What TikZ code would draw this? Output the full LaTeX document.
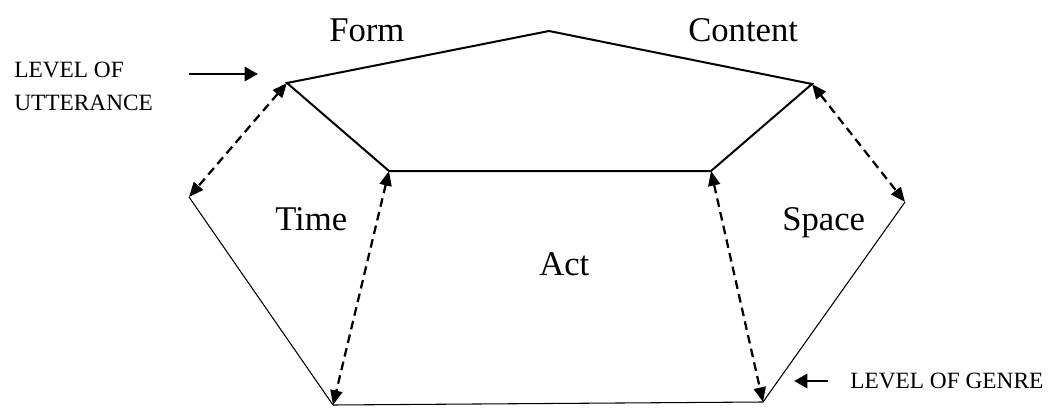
\documentclass[tikz,border=0pt]{standalone}
\usepackage{fontspec}
\setmainfont{Liberation Serif}
\usetikzlibrary{arrows.meta}

\begin{document}
\begin{tikzpicture}[x=0.75pt,y=-0.75pt,
		outer line/.style={line width=1.5pt},
		lower line/.style={line width=0.8pt},
		link arrow/.style={line width=1.7pt,dash pattern=on 6.5pt off 4pt,
			{Triangle[length=11pt,width=9pt]}-{Triangle[length=11pt,width=9pt]}},
		level arrow/.style={line width=2.2pt,-{Triangle[length=10pt,width=10.5pt]}},
		region label/.style={font=\fontsize{26}{30}\selectfont,inner sep=0pt,anchor=base west},
		level label/.style={font=\fontsize{17.5}{24.75}\selectfont,inner sep=0pt,align=left}]
	
	\useasboundingbox (0,0) rectangle (1053,410);
	
	% corners of the figure
	\coordinate (A) at (287,83);
	\coordinate (B) at (549,31);
	\coordinate (C) at (812,84);
	\coordinate (D) at (711,171);
	\coordinate (E) at (389,171);
	\coordinate (F) at (189,197);
	\coordinate (G) at (333,405);
	\coordinate (H) at (763,402);
	\coordinate (I) at (905,202);
	
	% upper level
	\draw[outer line] (A) -- (B) -- (C) -- (D) -- (E) -- cycle;
	% lower level
	\draw[lower line] (F) -- (G) -- (H) -- (I);
	
	\draw[link arrow] (A) -- (F);
	\draw[link arrow] (E) -- (G);
	\draw[link arrow] (D) -- (H);
	\draw[link arrow] (C) -- (I);
	
	\node[region label] (form) at (329,42) {Form};
	\node[region label] (content) at (688,42) {Content};
	\node[region label] (time) at (275,230) {Time};
	\node[region label] (act) at (539,275) {Act};
	\node[region label] (space) at (782,230) {Space};
	
	\node[level label,anchor=north west] (utter) at (14,62) {LEVEL OF\\UTTERANCE};
	\node[level label,anchor=base west] (genre) at (850,388) {LEVEL OF GENRE};
	
	\coordinate (ua) at (189,74);
	\coordinate (ub) at (258,74);
	\coordinate (ga) at (828,381);
	\coordinate (gb) at (794,381);
	\draw[level arrow] (ua) -- (ub);
	\draw[level arrow] (ga) -- (gb);
\end{tikzpicture}
\end{document}
